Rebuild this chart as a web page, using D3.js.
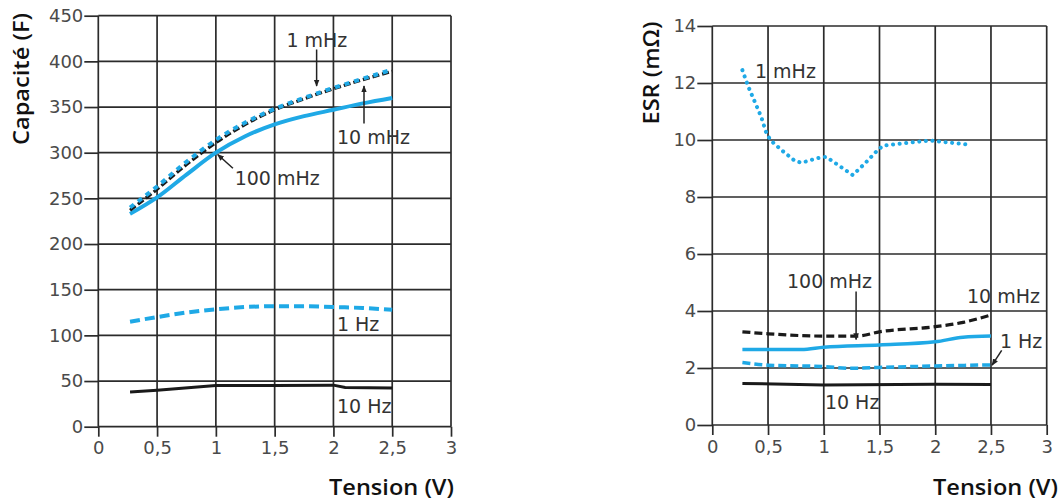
<!DOCTYPE html>
<html><head><meta charset="utf-8">
<script src="https://cdn.jsdelivr.net/npm/d3@7"></script>
<style>
html,body{margin:0;padding:0;background:#fff;}
svg{display:block;}
</style></head>
<body>
<svg id="chart" width="1060" height="504"></svg>
<script>
// ---------- DATA ----------
const xTicks = [0, 0.5, 1, 1.5, 2, 2.5, 3];
const xTickLabels = ["0", "0,5", "1", "1,5", "2", "2,5", "3"];
const capTicks = [0, 50, 100, 150, 200, 250, 300, 350, 400, 450];
const esrTicks = [0, 2, 4, 6, 8, 10, 12, 14];

// Capacité (F)
const cap1mHzV   = [0.27, 0.5, 0.75, 1, 1.25, 1.5, 1.75, 2, 2.25, 2.5];
const cap1mHz    = [240, 263, 290, 314, 333, 348, 360, 371, 381, 391];
const cap10mHzV  = [0.27, 0.5, 0.75, 1, 1.25, 1.5, 1.75, 2, 2.25, 2.5];
const cap10mHz   = [237, 260, 287, 311, 331, 347, 359, 370, 380, 389];
const cap100mHzV = [0.27, 0.5, 0.75, 1, 1.25, 1.5, 1.75, 2, 2.25, 2.5];
const cap100mHz  = [233, 251, 276, 300, 318, 331, 340, 347, 354, 360];
const cap1HzV    = [0.27, 0.5, 0.75, 1, 1.25, 1.5, 1.75, 2, 2.25, 2.5];
const cap1Hz     = [115, 120, 125, 128.5, 131, 132, 132, 131, 130, 128];
const cap10HzV   = [0.27, 0.5, 1, 1.5, 2, 2.1, 2.5];
const cap10Hz    = [38, 40, 45, 45, 45.5, 43, 42.5];

// ESR (mΩ)
const esr1mHzV   = [0.27, 0.32, 0.38, 0.44, 0.48, 0.52, 0.62, 0.74, 0.8, 0.94, 1.02, 1.13, 1.26, 1.37, 1.47, 1.53, 1.67, 1.8, 1.95, 2.1, 2.27];
const esr1mHz    = [12.45, 11.9, 11.35, 10.8, 10.3, 10.0, 9.65, 9.27, 9.2, 9.36, 9.41, 9.12, 8.77, 9.18, 9.59, 9.8, 9.86, 9.92, 9.98, 9.92, 9.85];
const esr10mHzV  = [0.27, 0.5, 1, 1.3, 1.5, 2, 2.25, 2.5];
const esr10mHz   = [3.27, 3.2, 3.12, 3.12, 3.27, 3.45, 3.6, 3.86];
const esr100mHzV = [0.27, 0.8, 1, 1.5, 2, 2.25, 2.5];
const esr100mHz  = [2.65, 2.65, 2.73, 2.81, 2.92, 3.08, 3.12];
const esr1HzV    = [0.27, 0.5, 1, 1.25, 1.5, 2, 2.5];
const esr1Hz     = [2.19, 2.1, 2.05, 1.99, 2.02, 2.07, 2.11];
const esr10HzV   = [0.27, 1, 2, 2.5];
const esr10Hz    = [1.46, 1.40, 1.43, 1.42];

// ---------- DRAWING ----------
const BLUE = "#1fa9e6";
const GRID = "#2b2b2b";
const svg = d3.select("#chart");

const defs = svg.append("defs");
defs.append("marker").attr("id","arr").attr("viewBox","0 0 10 10")
  .attr("refX",9).attr("refY",5).attr("markerWidth",7).attr("markerHeight",7)
  .attr("markerUnits","userSpaceOnUse").attr("orient","auto")
  .append("path").attr("d","M0,1 L10,5 L0,9 Z").attr("fill","#222");

function panel(cfg){
  const g = svg.append("g");
  const x = d3.scaleLinear().domain([0,3]).range(cfg.xr);
  const y = d3.scaleLinear().domain([0,cfg.ymax]).range(cfg.yr);

  // grid
  g.selectAll(".vg").data(xTicks).enter().append("line")
    .attr("x1",d=>x(d)).attr("x2",d=>x(d)).attr("y1",y(0)).attr("y2",y(cfg.ymax))
    .attr("stroke",GRID).attr("stroke-width",1.7);
  g.selectAll(".hg").data(cfg.yTicks).enter().append("line")
    .attr("x1",x(0)).attr("x2",x(3)).attr("y1",d=>y(d)).attr("y2",d=>y(d))
    .attr("stroke",GRID).attr("stroke-width",1.7);

  // axes via d3
  const yAxis = d3.axisLeft(y).tickValues(cfg.yTicks).tickSize(cfg.yTickLen).tickPadding(1);
  const ya = g.append("g").attr("transform",`translate(${x(0)},0)`).call(yAxis);
  const xAxis = d3.axisBottom(x).tickValues(xTicks).tickSize(10).tickPadding(5)
    .tickFormat((d,i)=>xTickLabels[i]);
  const xa = g.append("g").attr("transform",`translate(0,${y(0)})`).call(xAxis);
  [ya,xa].forEach(a=>{
    a.select(".domain").remove();
    a.selectAll(".tick line").attr("stroke",GRID).attr("stroke-width",1.7);
    a.selectAll(".tick text").attr("fill","#4a4a4a")
      .style("font-family","'DejaVu Sans', sans-serif").style("font-size","18px");
  });

  // axis titles
  g.append("text").attr("transform",`translate(${cfg.ytX},${cfg.ytY}) rotate(-90)`)
    .attr("text-anchor","middle").attr("dominant-baseline","middle")
    .attr("textLength",cfg.ytLen).attr("lengthAdjust","spacingAndGlyphs")
    .style("font-family","'Open Sans', sans-serif").style("font-weight","600").style("font-size","21px")
    .attr("fill","#111").text(cfg.yTitle);
  g.append("text").attr("x",cfg.xtX).attr("y",489).attr("dominant-baseline","middle")
    .attr("textLength",125).attr("lengthAdjust","spacingAndGlyphs")
    .style("font-family","'Open Sans', sans-serif").style("font-weight","600").style("font-size","21px")
    .attr("fill","#111").text("Tension (V)");

  // series
  cfg.series.forEach(s=>{
    const pts = s.v.map((v,i)=>[v,s.y[i]]);
    const line = d3.line().x(d=>x(d[0])).y(d=>y(d[1])).curve(s.curve||d3.curveMonotoneX);
    g.append("path").attr("d",line(pts)).attr("fill","none")
      .attr("stroke",s.color).attr("stroke-width",s.w)
      .attr("stroke-dasharray",s.dash||null)
      .attr("stroke-linecap",s.cap||"butt");
  });

  // labels
  cfg.labels.forEach(l=>{
    g.append("text").attr("x",x(l.x)).attr("y",y(l.y))
      .style("font-family","'DejaVu Sans', sans-serif").style("font-size","19px")
      .attr("fill","#333").text(l.t);
  });
  cfg.arrows.forEach(a=>{
    g.append("line").attr("x1",x(a[0])).attr("y1",y(a[1])).attr("x2",x(a[2])).attr("y2",y(a[3]))
      .attr("stroke","#222").attr("stroke-width",1.5).attr("marker-end","url(#arr)");
  });
}

panel({
  xr:[98.3,451], yr:[426.7,15.7], ymax:450, yTicks:capTicks, yTickLen:14,
  yTitle:"Capacité (F)", ytX:23, ytY:79, ytLen:132, xtX:329,
  series:[
    {v:cap10HzV, y:cap10Hz, color:"#1a1a1a", w:3, curve:d3.curveLinear},
    {v:cap1HzV, y:cap1Hz, color:BLUE, w:4, dash:"10 5"},
    {v:cap100mHzV, y:cap100mHz, color:BLUE, w:4},
    {v:cap10mHzV, y:cap10mHz, color:"#1a1a1a", w:3.2, dash:"7 3"},
    {v:cap1mHzV, y:cap1mHz, color:BLUE, w:4, dash:"5 5"}
  ],
  labels:[
    {t:"1 mHz", x:1.6, y:416},
    {t:"10 mHz", x:2.03, y:310},
    {t:"100 mHz", x:1.16, y:265},
    {t:"1 Hz", x:2.03, y:105},
    {t:"10 Hz", x:2.03, y:15}
  ],
  arrows:[[1.857,413,1.857,373],[2.26,332,2.26,373],[1.145,283,1.015,298]]
});

panel({
  xr:[712.3,1046.7], yr:[425,26], ymax:14, yTicks:esrTicks, yTickLen:15,
  yTitle:"ESR (mΩ)", ytX:653, ytY:73, ytLen:103, xtX:933,
  series:[
    {v:esr10HzV, y:esr10Hz, color:"#1a1a1a", w:3, curve:d3.curveLinear},
    {v:esr1HzV, y:esr1Hz, color:BLUE, w:3.5, dash:"8 4"},
    {v:esr100mHzV, y:esr100mHz, color:BLUE, w:3.5},
    {v:esr10mHzV, y:esr10mHz, color:"#1a1a1a", w:3.2, dash:"8 4"},
    {v:esr1mHzV, y:esr1mHz, color:BLUE, w:4, dash:"0.1 6.5", cap:"round", curve:d3.curveLinear}
  ],
  labels:[
    {t:"1 mHz", x:0.383, y:12.18},
    {t:"100 mHz", x:0.67, y:4.81},
    {t:"10 mHz", x:2.285, y:4.28},
    {t:"1 Hz", x:2.58, y:2.70},
    {t:"10 Hz", x:1.01, y:0.56}
  ],
  arrows:[[1.29,4.68,1.29,3.0],[2.596,2.62,2.51,2.1]]
});
</script>
</body></html>
